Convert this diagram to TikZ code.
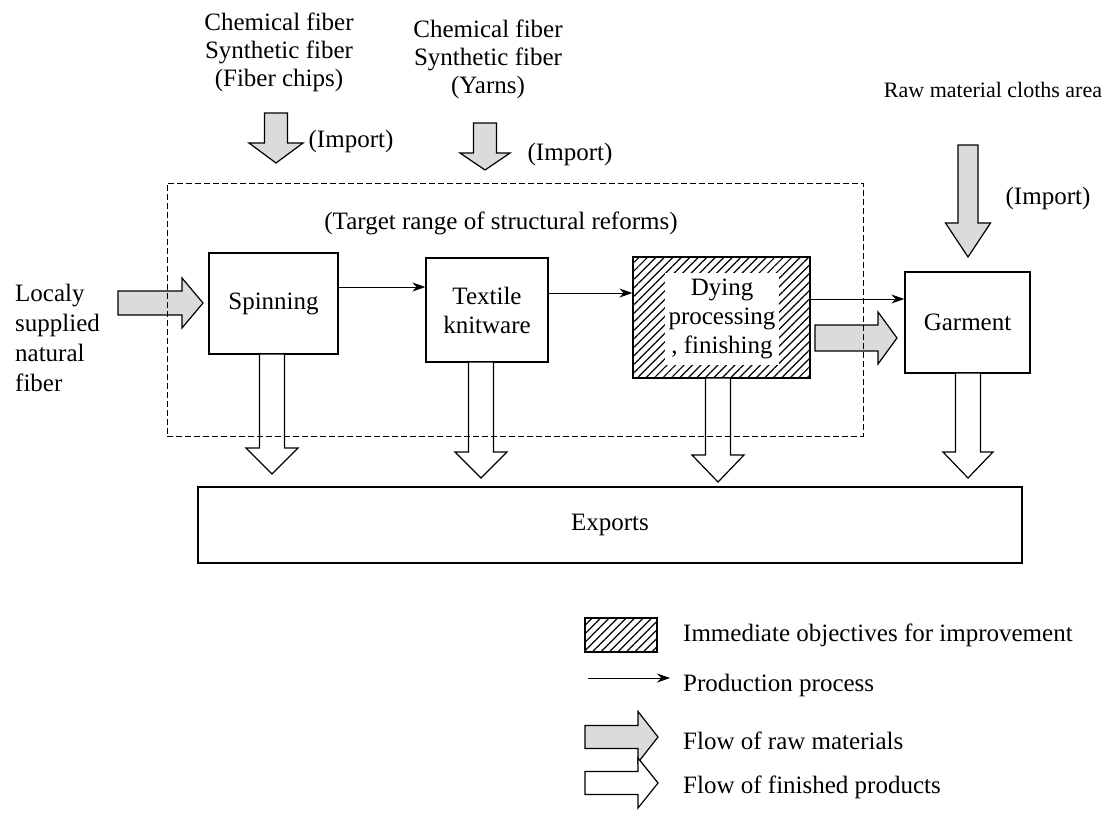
\documentclass[tikz,border=0pt]{standalone}
\usepackage{fontspec}
\setmainfont{Liberation Serif}
\usetikzlibrary{arrows.meta,patterns.meta}
% fat arrow pointing down: style, cx, ytop, yhead, ytip, shaft half width, head half width
\newcommand{\fatdownarrow}[7]{%
  \path[#1] (#2-#6,#3) -- (#2+#6,#3) -- (#2+#6,#4) -- (#2+#7,#4) -- (#2,#5)
    -- (#2-#7,#4) -- (#2-#6,#4) -- cycle;}
% fat arrow pointing right: style, xtail, xhead, xtip, cy, shaft half width, head half width
\newcommand{\fatrightarrow}[7]{%
  \path[#1] (#2,#5-#6) -- (#3,#5-#6) -- (#3,#5-#7) -- (#4,#5) -- (#3,#5+#7)
    -- (#3,#5+#6) -- (#2,#5+#6) -- cycle;}
\tikzset{
  txt/.style={inner sep=0pt, font=\fontsize{25}{28}\selectfont},
  boxnode/.style={draw, line width=1.3pt, inner sep=0pt, align=center,
                  font=\fontsize{25}{29}\selectfont},
  rawflow/.style={draw, line width=1.2pt, fill=gray!28, line join=miter},
  finflow/.style={draw, line width=1.2pt, fill=white, line join=miter},
  prod/.style={-{Stealth[length=13pt,width=9pt]}, line width=1pt},
  hatch/.style={pattern={Lines[angle=45,distance=6pt,line width=1.2pt]}},
  rangebox/.style={draw, dashed, dash pattern=on 6pt off 3pt, line width=1pt, inner sep=0pt}
}
\begin{document}
\begin{tikzpicture}[x=1pt,y=-1pt]
\useasboundingbox (0,0) rectangle (1105,820);

% process boxes
\node[boxnode, minimum width=129, minimum height=101] (spin) at (273.5,303.5) {Spinning};
\node[boxnode, minimum width=122, minimum height=104] (tex) at (487,310) {Textile\\knitware};
\node[boxnode, hatch, minimum width=177, minimum height=121] (dye) at (721.5,317.5) {};
\node[fill=white, inner sep=0pt, minimum width=114, minimum height=92, align=center,
      font=\fontsize{25}{29}\selectfont] (dyetext) at (722,319) {Dying\\processing\\, finishing};
\node[boxnode, minimum width=125, minimum height=101] (garm) at (967.5,322.5) {Garment};
\node[boxnode, minimum width=824, minimum height=76] (exp) at (610,525) {Exports};

% texts
\node[txt, align=center] (chem1) at (279,52) {Chemical fiber\\Synthetic fiber\\(Fiber chips)};
\node[txt, align=center] (chem2) at (488,59) {Chemical fiber\\Synthetic fiber\\(Yarns)};
\node[txt] (imp1) at (351,141) {(Import)};
\node[txt] (imp2) at (570,154) {(Import)};
\node[txt, font=\fontsize{22}{26}\selectfont] (cloth) at (993,90) {Raw material cloths area};
\node[txt] (imp3) at (1048,198) {(Import)};
\node[txt] (target) at (501,223) {(Target range of structural reforms)};
\node[txt, align=left, anchor=west, font=\fontsize{25}{30}\selectfont] (local) at (15,338)
  {Localy\\supplied\\natural\\fiber};

% raw material flows
\fatdownarrow{rawflow}{276}{113}{143}{163}{11.5}{27}
\fatdownarrow{rawflow}{485}{123}{153}{170}{11.5}{25}
\fatdownarrow{rawflow}{968}{145}{223}{257}{10}{22.5}
\fatrightarrow{rawflow}{118}{182}{203}{303}{12}{25}
\fatrightarrow{rawflow}{815}{878}{897}{338}{13}{26}

% finished products flows
\fatdownarrow{finflow}{272}{354}{448}{474}{12.5}{26}
\fatdownarrow{finflow}{481}{362}{452}{478}{12.5}{26}
\fatdownarrow{finflow}{718}{378}{455}{482}{12.5}{26}
\fatdownarrow{finflow}{968}{373}{452}{478}{12.5}{25}

% production process
\draw[prod] (spin.east |- 0,287) -- (tex.west |- 0,287);
\draw[prod] (tex.east |- 0,293) -- (dye.west |- 0,293);
\draw[prod] (dye.east |- 0,299) -- (garm.west |- 0,299);

% target range (dashed)
\node[rangebox, minimum width=696, minimum height=253] (range) at (515,309.5) {};

% legend
\fill[hatch] (585,618) rectangle (657,652);
\draw[line width=1.2pt] (585,618) rectangle (657,652);
\coordinate (lpa) at (588,678);
\coordinate (lpb) at (670,678);
\draw[prod] (lpa) -- (lpb);
\fatrightarrow{rawflow}{585}{638}{658}{737}{11.5}{25.5}
\fatrightarrow{finflow}{585}{638}{658}{783}{11.5}{25}
\node[txt, anchor=west] (l1) at (683,635) {Immediate objectives for improvement};
\node[txt, anchor=west] (l2) at (683,685) {Production process};
\node[txt, anchor=west] (l3) at (683,741) {Flow of raw materials};
\node[txt, anchor=west] (l4) at (683,787) {Flow of finished products};
\end{tikzpicture}
\end{document}
